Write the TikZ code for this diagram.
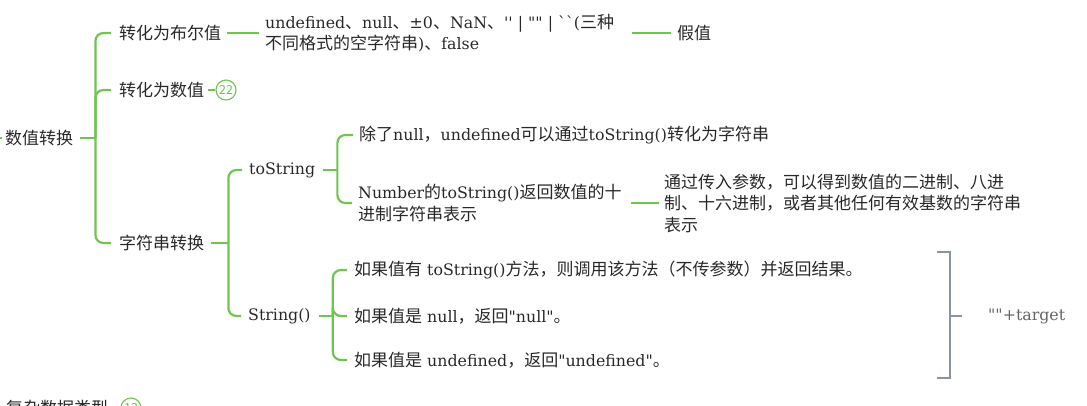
\documentclass[tikz,border=0pt]{standalone}
\usepackage{fontspec}
\newfontfamily\cjk{Noto Sans CJK SC}
\newfontfamily\lat{DejaVu Serif}[Scale=0.93]
\newcount\cjkcc
\cjkcc="4E00
\loop \XeTeXcharclass\cjkcc=1 \advance\cjkcc by 1 \ifnum\cjkcc<"A000 \repeat
\XeTeXcharclass"3001=3
\XeTeXcharclass"3002=3
\XeTeXcharclass"FF0C=3
\XeTeXcharclass"FF09=3
\XeTeXcharclass"FF08=2
\XeTeXinterchartoks 0 1 = {\cjk}
\XeTeXinterchartoks 0 2 = {\cjk}
\XeTeXinterchartoks 0 3 = {\cjk}
\XeTeXinterchartoks 4095 1 = {\cjk}
\XeTeXinterchartoks 4095 2 = {\cjk}
\XeTeXinterchartoks 4095 3 = {\cjk}
\XeTeXinterchartoks 1 0 = {\lat}
\XeTeXinterchartoks 2 0 = {\lat}
\XeTeXinterchartoks 3 0 = {\lat}
\XeTeXinterchartoks 1 4095 = {\lat}
\XeTeXinterchartoks 2 4095 = {\lat}
\XeTeXinterchartoks 3 4095 = {\lat}
\XeTeXinterchartokenstate=1
\definecolor{gr}{RGB}{110,197,80}
\definecolor{gb}{RGB}{138,146,166}
\definecolor{tx}{RGB}{40,40,40}
\definecolor{tg}{RGB}{100,100,100}
\tikzset{
  txt/.style={anchor=west, inner sep=0pt, text=tx, align=left,
    font=\lat\fontsize{17}{21.5}\selectfont},
  br/.style={draw=gr, line width=2.2pt, rounded corners=8pt},
  badge/.style={circle, draw=gr, line width=1.1pt, minimum size=20pt, inner sep=0pt,
    text=gr, font=\cjk\fontsize{12.5}{13}\selectfont},
  bk/.style={draw=gb, line width=2.4pt},
}
\begin{document}
\begin{tikzpicture}[x=1pt,y=-1pt]
\useasboundingbox (0,0) rectangle (1087,406);
% nodes
\node[txt] (root) at (5,138) {数值转换};
\node[txt] (bool) at (119,33) {转化为布尔值};
\node[txt] (num) at (119,90) {转化为数值};
\node[txt] (str) at (119,243) {字符串转换};
\node[txt] (fal) at (265,33) {undefined、null、±0、NaN、'' | "" | ``(三种\\不同格式的空字符串)、false};
\node[txt] (jia) at (677,33) {假值};
\node[badge] (c22) at (226,90) {22};
\node[txt] (tos) at (249,170) {toString};
\node[txt] (sfn) at (248,316) {String()};
\node[txt] (t1) at (359,135) {除了null，undefined可以通过toString()转化为字符串};
\node[txt] (t2) at (358,203) {Number的toString()返回数值的十\\进制字符串表示};
\node[txt] (t3) at (664,203) {通过传入参数，可以得到数值的二进制、八进\\制、十六进制，或者其他任何有效基数的字符串\\表示};
\node[txt] (s1) at (354,270) {如果值有 toString()方法，则调用该方法（不传参数）并返回结果。};
\node[txt] (s2) at (354,316) {如果值是 null，返回"null"。};
\node[txt] (s3) at (354,360) {如果值是 undefined，返回"undefined"。};
\node[txt, text=tg] (tgt) at (988,316) {""+target};
\node[txt] (cplx) at (6,408) {复杂数据类型};
\node[badge] (c12) at (131,408) {12};
% root connectors
\draw[br] ([xshift=-3pt]root.west) -- ++(-10,0);
\draw[br] ([xshift=7pt]root.east) -- ++(15,0) coordinate (rt);
\draw[br] (rt) |- ([xshift=-8pt]bool.west);
\draw[br] (rt) |- ([xshift=-8pt]num.west);
\draw[br] (rt) |- ([xshift=-8pt]str.west);
\draw[br] ([xshift=6pt]bool.east) -- ([xshift=-6pt]fal.west);
\draw[br] ([xshift=18pt]fal.east) -- ([xshift=-6pt]jia.west);
\draw[br] ([xshift=4pt]num.east) -- (c22.west);
\draw[br] ([xshift=5pt]cplx.east) -- (c12.west);
% string conversion
\draw[br] ([xshift=7pt]str.east) -- ++(17,0) coordinate (st);
\draw[br] (st) |- ([xshift=-7pt]tos.west);
\draw[br] (st) |- ([xshift=-7pt]sfn.west);
\draw[br] ([xshift=8pt]tos.east) -- ++(14,0) coordinate (tt);
\draw[br] (tt) |- ([xshift=-6pt]t1.west);
\draw[br] (tt) |- ([xshift=-6pt]t2.west);
\draw[br] ([xshift=9pt]t2.east) -- ([xshift=-5pt]t3.west);
\draw[br] ([xshift=8pt]sfn.east) -- ++(14,0) coordinate (sf);
\draw[br] (sf) |- ([xshift=-7pt]s1.west);
\draw[br] (sf) |- ([xshift=-7pt]s2.west);
\draw[br] (sf) |- ([xshift=-7pt]s3.west);
% summary bracket
\coordinate (bt) at (937,252);
\coordinate (bb) at (937,378);
\draw[bk] (bt) -- ++(13,0) coordinate (btr) -- (btr |- bb) -- (bb);
\draw[bk] (btr |- tgt.west) -- ([xshift=-26pt]tgt.west);
\end{tikzpicture}
\end{document}
